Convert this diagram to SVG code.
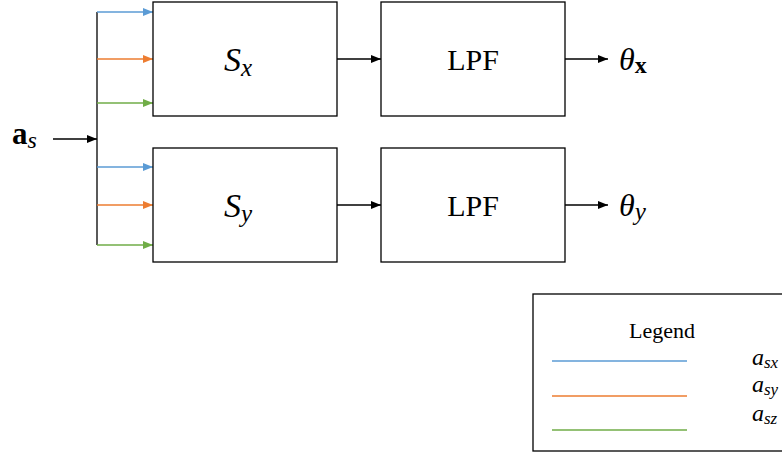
<svg xmlns="http://www.w3.org/2000/svg" width="782" height="454" viewBox="0 0 782 454">
  <style>
    .box { fill: #ffffff; stroke: #000000; stroke-width: 1.3; }
    .wire { fill: none; stroke: #000000; stroke-width: 1.3; }
    .blue { fill: none; stroke: #5b9bd5; stroke-width: 1.3; }
    .orange { fill: none; stroke: #ed7d31; stroke-width: 1.3; }
    .green { fill: none; stroke: #70ad47; stroke-width: 1.3; }
    .lbl { font-family: "Liberation Serif", "DejaVu Serif", serif; fill: #000000; }
    .math { font-family: "Liberation Serif", "DejaVu Serif", serif; font-style: italic; fill: #000000; }
    .block { font-size: 34px; }
    .blocksub { font-size: 25px; }
    .filter { font-size: 30px; }
    .out { font-size: 32px; }
    .legtitle { font-size: 22px; }
    .leg { font-size: 24px; }
    .legsub { font-size: 17px; }
  </style>
  <defs>
    <marker id="ah-black" markerWidth="10" markerHeight="8" refX="10" refY="4" orient="auto" markerUnits="userSpaceOnUse">
      <path d="M0,0 L10,4 L0,8 Z" fill="#000000"/>
    </marker>
    <marker id="ah-blue" markerWidth="10" markerHeight="8" refX="10" refY="4" orient="auto" markerUnits="userSpaceOnUse">
      <path d="M0,0 L10,4 L0,8 Z" fill="#5b9bd5"/>
    </marker>
    <marker id="ah-orange" markerWidth="10" markerHeight="8" refX="10" refY="4" orient="auto" markerUnits="userSpaceOnUse">
      <path d="M0,0 L10,4 L0,8 Z" fill="#ed7d31"/>
    </marker>
    <marker id="ah-green" markerWidth="10" markerHeight="8" refX="10" refY="4" orient="auto" markerUnits="userSpaceOnUse">
      <path d="M0,0 L10,4 L0,8 Z" fill="#70ad47"/>
    </marker>
  </defs>

  <!-- input label -->
  <g id="input">
    <text x="12" y="144" class="lbl" style="font-size:31px;font-weight:bold">a<tspan class="math" style="font-size:24px;font-weight:normal" dy="4">s</tspan></text>
  </g>

  <!-- connectors -->
  <g id="connectors">
    <line x1="53" y1="139" x2="97" y2="139" class="wire" marker-end="url(#ah-black)"/>
    <line x1="97" y1="12" x2="97" y2="245" class="wire"/>
    <line x1="97" y1="12" x2="153" y2="12" class="blue" marker-end="url(#ah-blue)"/>
    <line x1="97" y1="59" x2="153" y2="59" class="orange" marker-end="url(#ah-orange)"/>
    <line x1="97" y1="103" x2="153" y2="103" class="green" marker-end="url(#ah-green)"/>
    <line x1="97" y1="167" x2="153" y2="167" class="blue" marker-end="url(#ah-blue)"/>
    <line x1="97" y1="205" x2="153" y2="205" class="orange" marker-end="url(#ah-orange)"/>
    <line x1="97" y1="245" x2="153" y2="245" class="green" marker-end="url(#ah-green)"/>
    <line x1="337" y1="59" x2="381" y2="59" class="wire" marker-end="url(#ah-black)"/>
    <line x1="337" y1="205" x2="381" y2="205" class="wire" marker-end="url(#ah-black)"/>
    <line x1="565" y1="59" x2="608" y2="59" class="wire" marker-end="url(#ah-black)"/>
    <line x1="565" y1="205" x2="608" y2="205" class="wire" marker-end="url(#ah-black)"/>
  </g>

  <!-- sensor blocks -->
  <g id="sx">
    <rect x="153" y="2" width="184" height="114" class="box"/>
    <text x="224" y="71" class="math block">S<tspan class="blocksub" dy="5">x</tspan></text>
  </g>
  <g id="sy">
    <rect x="153" y="148" width="184" height="114" class="box"/>
    <text x="224" y="217" class="math block">S<tspan class="blocksub" dy="5">y</tspan></text>
  </g>

  <!-- low-pass filters -->
  <g id="lpf-x">
    <rect x="381" y="2" width="184" height="114" class="box"/>
    <text x="473" y="70" class="lbl filter" text-anchor="middle">LPF</text>
  </g>
  <g id="lpf-y">
    <rect x="381" y="148" width="184" height="114" class="box"/>
    <text x="473" y="216" class="lbl filter" text-anchor="middle">LPF</text>
  </g>

  <!-- outputs -->
  <g id="theta-x">
    <text x="619" y="70" class="math out">θ<tspan class="lbl" style="font-style:normal;font-weight:bold;font-size:24px" dy="3">x</tspan></text>
  </g>
  <g id="theta-y">
    <text x="619" y="216" class="math out">θ<tspan style="font-size:25px" dy="4">y</tspan></text>
  </g>

  <!-- legend -->
  <g id="legend">
    <rect x="533" y="294" width="252" height="157" class="box"/>
    <text x="662" y="338" class="lbl legtitle" text-anchor="middle">Legend</text>
    <line x1="552" y1="361" x2="687" y2="361" class="blue"/>
    <line x1="552" y1="396" x2="687" y2="396" class="orange"/>
    <line x1="552" y1="430" x2="687" y2="430" class="green"/>
    <text x="752" y="365" class="math leg">a<tspan class="legsub" dy="3">sx</tspan></text>
    <text x="752" y="392" class="math leg">a<tspan class="legsub" dy="3">sy</tspan></text>
    <text x="752" y="421" class="math leg">a<tspan class="legsub" dy="3">sz</tspan></text>
  </g>
</svg>
